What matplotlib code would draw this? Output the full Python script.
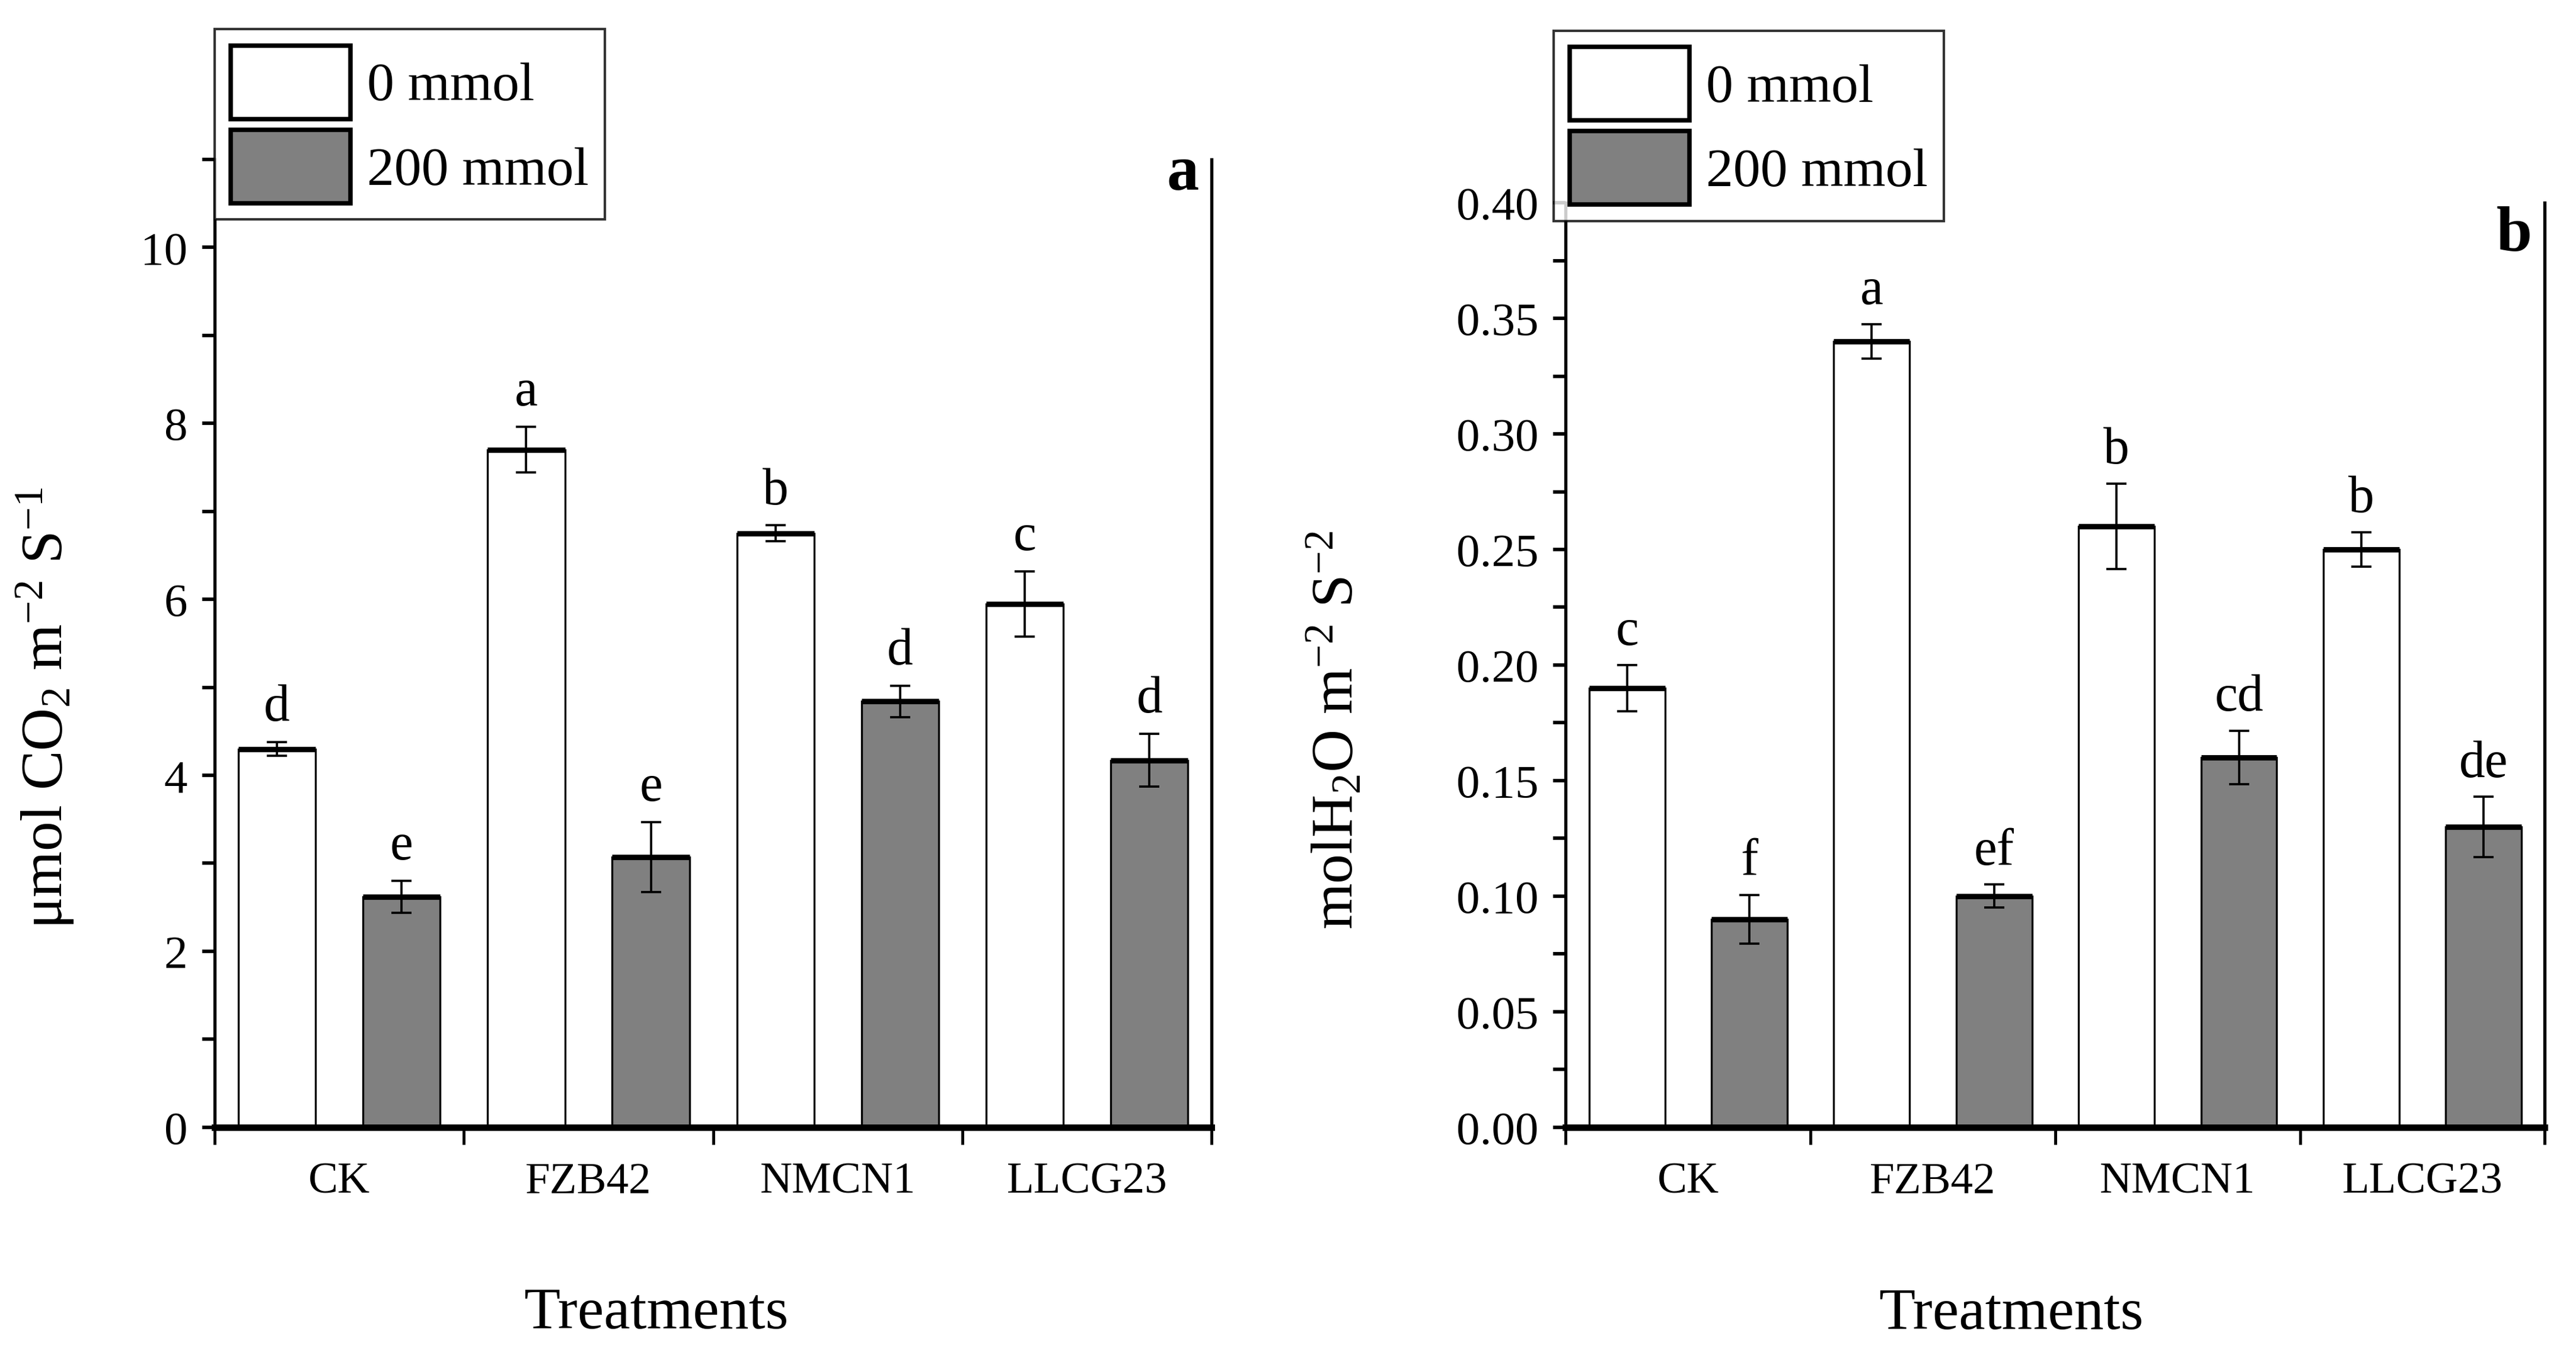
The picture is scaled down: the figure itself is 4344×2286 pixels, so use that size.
import numpy as np
import matplotlib.pyplot as plt
from matplotlib.patches import Patch
from matplotlib.ticker import MultipleLocator, FormatStrFormatter

plt.rcParams['font.family'] = ['Liberation Serif', 'DejaVu Serif']
plt.rcParams['mathtext.fontset'] = 'custom'
plt.rcParams['mathtext.rm'] = 'Liberation Serif'
plt.rcParams['mathtext.it'] = 'Liberation Serif:italic'

# data
treatments = ['CK', 'FZB42', 'NMCN1', 'LLCG23']
series = ['0 mmol', '200 mmol']

pn_0 = [4.30, 7.70, 6.75, 5.95]
pn_0_err = [0.08, 0.26, 0.09, 0.37]
pn_200 = [2.62, 3.07, 4.84, 4.17]
pn_200_err = [0.18, 0.40, 0.18, 0.30]
pn_0_let = ['d', 'a', 'b', 'c']
pn_200_let = ['e', 'e', 'd', 'd']

gs_0 = [0.19, 0.34, 0.26, 0.25]
gs_0_err = [0.010, 0.0075, 0.0185, 0.0075]
gs_200 = [0.09, 0.10, 0.16, 0.13]
gs_200_err = [0.0105, 0.005, 0.0115, 0.013]
gs_0_let = ['c', 'a', 'b', 'b']
gs_200_let = ['f', 'ef', 'cd', 'de']

fig = plt.figure(figsize=(14.483, 7.623), dpi=300)
ax1 = fig.add_axes([0.0833, 0.168, 0.387, 0.714])
ax2 = fig.add_axes([0.6077, 0.168, 0.380, 0.682])

colors = ['white', '#808080']
w = 0.31
x = np.arange(len(treatments)) + 0.5


def draw_panel(ax, v0, e0, v1, e1, l0, l1, ytop, step, minor, fmt, ylabel, tag, off,
               ylab_xy, xlab_xy, tag_y):
    for vals, errs, lets, c, dx in [(v0, e0, l0, colors[0], -0.25), (v1, e1, l1, colors[1], 0.25)]:
        ax.bar(x + dx, vals, w, color=c, edgecolor='black', linewidth=0.8, zorder=2)
        # thick top edge on each bar
        ax.hlines(vals, x + dx - w / 2, x + dx + w / 2, color='black', linewidth=2.2, zorder=3)
        ax.errorbar(x + dx, vals, yerr=errs, fmt='none', ecolor='black',
                    elinewidth=0.9, capsize=4, capthick=0.9, zorder=4)
        for xi, v, e, t in zip(x + dx, vals, errs, lets):
            ax.text(xi, v + e + off, t, ha='center', va='bottom', fontsize=21)

    ax.set_xlim(0, 4)
    ax.set_ylim(0, ytop)
    ax.set_xticks(x)
    ax.set_xticklabels(treatments, fontsize=18)
    ax.set_xticks(np.arange(0, 5), minor=True)
    ax.tick_params(axis='x', which='major', length=0, pad=14)
    ax.tick_params(axis='x', which='minor', length=7, width=1.2, direction='out')
    ax.yaxis.set_major_locator(MultipleLocator(step))
    ax.yaxis.set_minor_locator(MultipleLocator(minor))
    ax.yaxis.set_major_formatter(FormatStrFormatter(fmt))
    ax.tick_params(axis='y', which='both', direction='out', length=5, width=1.4,
                   labelsize=19, pad=6)
    ax.spines['top'].set_visible(False)
    ax.spines['left'].set_linewidth(1.3)
    ax.spines['right'].set_linewidth(1.3)
    ax.spines['bottom'].set_linewidth(2.6)
    ax.set_xlabel('Treatments', fontsize=24)
    ax.set_ylabel(ylabel, fontsize=24)
    ax.yaxis.set_label_coords(*ylab_xy)
    ax.xaxis.set_label_coords(*xlab_xy)
    ax.text(0.987, tag_y, tag, transform=ax.transAxes, ha='right', va='top',
            fontsize=26, fontweight='bold')


draw_panel(ax1, pn_0, pn_0_err, pn_200, pn_200_err, pn_0_let, pn_200_let,
           11, 2, 1, '%d', r'$\mathrm{\mu}$mol CO$_2$ m$^{-2}$ S$^{-1}$', 'a', 0.12,
           (-0.139, 0.434), (0.443, -0.165), 1.015)
draw_panel(ax2, gs_0, gs_0_err, gs_200, gs_200_err, gs_0_let, gs_200_let,
           0.40, 0.05, 0.025, '%.2f', r'molH$_2$O m$^{-2}$ S$^{-2}$', 'b', 0.004,
           (-0.205, 0.43), (0.455, -0.173), 0.997)

handles = [Patch(facecolor=c, edgecolor='black', linewidth=1.8) for c in colors]
for bx in [(0.0833, 0.978), (0.603, 0.977)]:
    leg = fig.legend(handles, series, loc='upper left', bbox_to_anchor=bx,
                     fontsize=22, frameon=True, fancybox=False, handlelength=2.2,
                     handleheight=1.7, handletextpad=0.3, borderpad=0.3,
                     labelspacing=0.2, borderaxespad=0)
    leg.get_frame().set_edgecolor('black')
    leg.get_frame().set_linewidth(1.0)

fig.savefig('out.png', dpi=300)
